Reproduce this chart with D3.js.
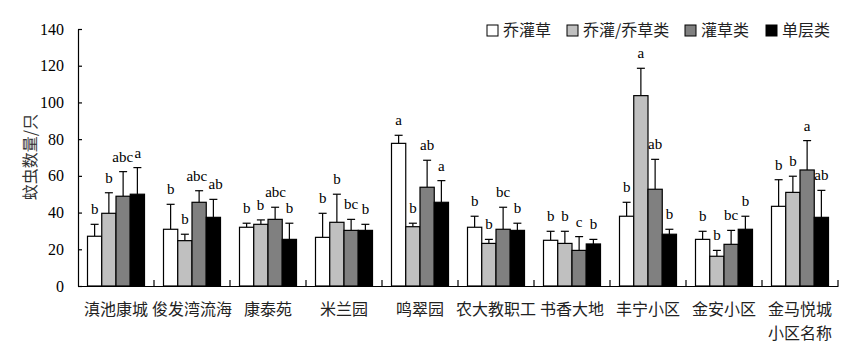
<!DOCTYPE html>
<html><head><meta charset="utf-8">
<script src="https://cdn.jsdelivr.net/npm/d3@7"></script>
<style>html,body{margin:0;padding:0;background:#fff;}</style>
</head><body>
<svg id="chart" width="857" height="349"></svg>
<script>
const categories = ['滇池康城','俊发湾流海','康泰苑','米兰园','鸣翠园','农大教职工','书香大地','丰宁小区','金安小区','金马悦城'];
const seriesNames = ['乔灌草','乔灌/乔草类','灌草类','单层类'];
const seriesColors = ['#ffffff','#c0c0c0','#808080','#000000'];
const yTicks = [0,20,40,60,80,100,120,140];

const valQGC   = [27.1, 30.9, 32.0, 26.5, 77.7, 32.0, 24.9, 38.0, 25.4, 43.4];
const errQGC   = [6.5, 13.6, 2.2, 13.1, 4.4, 6.0, 4.9, 7.6, 4.4, 14.5];
const lblQGC   = ['b','b','b','b','a','b','b','b','b','b'];

const valQGQC  = [39.6, 24.7, 33.6, 34.7, 32.3, 23.2, 23.2, 103.7, 16.2, 51.0];
const errQGQC  = [11.2, 3.5, 2.4, 15.3, 1.9, 2.2, 6.6, 14.9, 3.2, 8.8];
const lblQGQC  = ['b','b','b','b','b','b','b','a','b','b'];

const valGC    = [48.9, 45.6, 36.3, 30.3, 53.8, 30.9, 19.4, 52.7, 22.7, 63.2];
const errGC    = [13.4, 6.3, 6.6, 6.0, 14.7, 12.0, 7.5, 16.3, 7.6, 16.0];
const lblGC    = ['abc','abc','abc','bc','ab','bc','c','ab','bc','a'];

const valDC    = [50.0, 37.4, 25.4, 30.3, 45.6, 30.3, 22.9, 28.2, 30.9, 37.4];
const errDC    = [14.5, 9.8, 8.8, 3.3, 11.8, 3.9, 2.5, 2.7, 7.1, 14.7];
const lblDC    = ['a','ab','b','b','a','b','b','b','b','ab'];

const seriesVals = [valQGC, valQGQC, valGC, valDC];
const seriesErrs = [errQGC, errQGQC, errGC, errDC];
const seriesLbls = [lblQGC, lblQGQC, lblGC, lblDC];

const svg = d3.select('#chart');
const serif = '"Liberation Serif","Times New Roman",serif';
const cjk = '"Noto Sans CJK SC",sans-serif';

const x0 = d3.scaleBand().domain(categories).range([78, 838]).paddingInner(0.25).paddingOuter(0.125);
const x1 = d3.scaleBand().domain(seriesNames).range([0, x0.bandwidth()]);
const y = d3.scaleLinear().domain([0, 140]).range([286, 29]);

const data = [];
categories.forEach((c, i) => {
  seriesNames.forEach((s, j) => {
    data.push({c, i, s, j, v: seriesVals[j][i], e: seriesErrs[j][i], l: seriesLbls[j][i]});
  });
});

// error bars
const eg = svg.append('g').attr('stroke', '#000').attr('stroke-width', 1.2);
data.forEach(d => {
  const cx = x0(d.c) + x1(d.s) + x1.bandwidth() / 2;
  eg.append('line').attr('x1', cx).attr('x2', cx).attr('y1', y(d.v)).attr('y2', y(d.v + d.e));
  eg.append('line').attr('x1', cx - 4).attr('x2', cx + 4).attr('y1', y(d.v + d.e)).attr('y2', y(d.v + d.e));
});

// bars
svg.append('g').selectAll('rect').data(data).join('rect')
  .attr('x', d => x0(d.c) + x1(d.s))
  .attr('y', d => y(d.v))
  .attr('width', x1.bandwidth())
  .attr('height', d => y(0) - y(d.v))
  .attr('fill', d => seriesColors[d.j])
  .attr('stroke', '#000').attr('stroke-width', 1.2);

// significance letters
const labels = svg.append('g').selectAll('text').data(data).join('text')
  .attr('x', d => x0(d.c) + x1(d.s) + x1.bandwidth() / 2)
  .attr('y', d => y(d.v + d.e) - 10)
  .attr('text-anchor', 'middle')
  .attr('font-family', serif).attr('font-size', 15).attr('fill', '#000')
  .text(d => d.l);

// simple collision avoidance between neighbouring labels in a group
const nodes = labels.nodes();
for (let k = 0; k < nodes.length - 1; k++) {
  const a = nodes[k], b = nodes[k + 1];
  const da = d3.select(a).datum(), db = d3.select(b).datum();
  if (da.i !== db.i) continue;
  const ba = a.getBBox(), bb = b.getBBox();
  const hOver = (ba.x + ba.width) - bb.x;
  const vOver = Math.min(ba.y + ba.height, bb.y + bb.height) - Math.max(ba.y, bb.y);
  if (hOver > -1 && vOver > 2) {
    const shift = (hOver + 1) / 2;
    a.setAttribute('x', +a.getAttribute('x') - shift);
    b.setAttribute('x', +b.getAttribute('x') + shift);
  }
}

// y axis
const yAxis = d3.axisLeft(y).tickValues(yTicks).tickSize(-4).tickPadding(14).tickSizeOuter(0);
const ya = svg.append('g').attr('transform', 'translate(78,0)').call(yAxis);
ya.select('.domain').attr('stroke', '#000').attr('stroke-width', 1.2);
ya.selectAll('line').attr('stroke', '#000').attr('stroke-width', 1.2);
ya.selectAll('text').attr('font-family', serif).attr('font-size', 16).attr('fill', '#000');

// x axis
const xAxis = d3.axisBottom(x0).tickSize(0).tickPadding(18).tickSizeOuter(0);
const xa = svg.append('g').attr('transform', 'translate(0,286)').call(xAxis);
xa.select('.domain').attr('stroke', '#000').attr('stroke-width', 1.2);
xa.selectAll('text').attr('font-family', cjk).attr('font-size', 16).attr('fill', '#222');
// group boundary ticks
const step = x0.step();
const bounds = categories.slice(1).map(c => x0(c) - step * 0.125).concat([838]);
svg.append('g').selectAll('line').data(bounds).join('line')
  .attr('x1', d => d).attr('x2', d => d).attr('y1', 286).attr('y2', 280)
  .attr('stroke', '#000').attr('stroke-width', 1.2);

// axis titles
svg.append('text').attr('transform', 'translate(36,157) rotate(-90)')
  .attr('text-anchor', 'middle').attr('font-family', cjk).attr('font-size', 16).attr('fill', '#333')
  .text('蚊虫数量/只');
svg.append('text').attr('x', x0(categories[9]) + x0.bandwidth() / 2).attr('y', 339)
  .attr('text-anchor', 'middle').attr('font-family', cjk).attr('font-size', 16).attr('fill', '#222')
  .text('小区名称');

// legend
const legendX = [487, 567, 685, 766];
const lg = svg.append('g');
seriesNames.forEach((s, j) => {
  lg.append('rect').attr('x', legendX[j]).attr('y', 25).attr('width', 11).attr('height', 11)
    .attr('fill', seriesColors[j]).attr('stroke', '#000').attr('stroke-width', 1);
  lg.append('text').attr('x', legendX[j] + 16).attr('y', 36)
    .attr('font-family', cjk).attr('font-size', 16).attr('fill', '#222').text(s);
});
</script>
</body></html>
